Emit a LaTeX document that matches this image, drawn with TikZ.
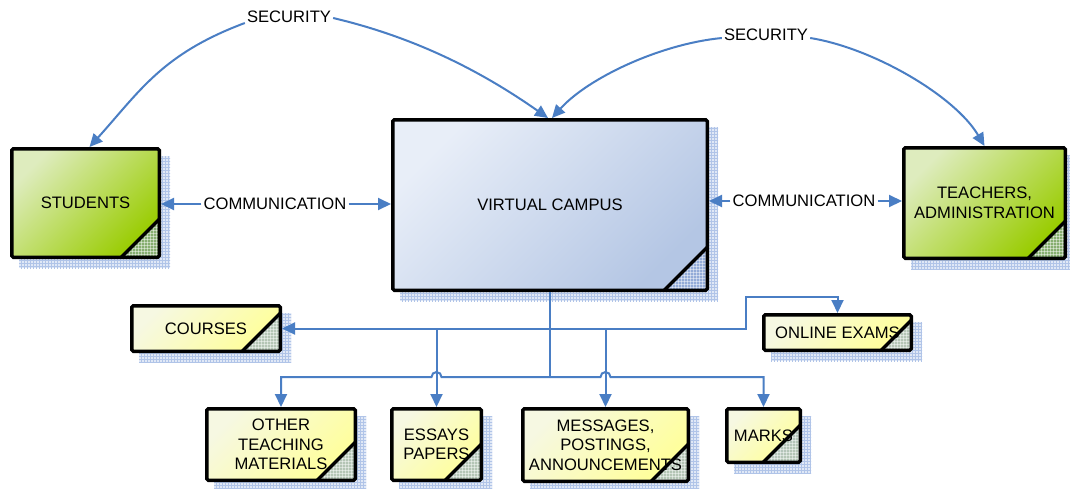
\documentclass[tikz,border=0pt]{standalone}
\usepackage{fontspec}
\setmainfont{Liberation Sans}
\usetikzlibrary{arrows.meta,patterns,backgrounds}
\definecolor{connblue}{RGB}{74,126,196}
\definecolor{shadowfill}{RGB}{224,232,246}
\definecolor{shadowgrid}{RGB}{176,196,232}
\definecolor{cornerblue}{RGB}{120,150,205}
\definecolor{gA}{RGB}{222,236,190}
\definecolor{gB}{RGB}{163,208,22}
\definecolor{gC}{RGB}{153,204,0}
\definecolor{bA}{RGB}{232,238,248}
\definecolor{bB}{RGB}{202,216,236}
\definecolor{bC}{RGB}{180,198,228}
\definecolor{yA}{RGB}{246,248,226}
\definecolor{yB}{RGB}{252,252,172}
\definecolor{yC}{RGB}{255,255,153}
\tikzset{
  fold/.store in=\foldsize, fold=38pt,
  box/.style={draw=black, line width=3.5pt, rounded corners=1.5pt, align=center,
    inner sep=0pt, font=\fontsize{16.6}{19.5}\selectfont,
    path picture={
      \fill[cornerblue, opacity=0.55] ([xshift=-\foldsize]path picture bounding box.south east)
        -- (path picture bounding box.south east)
        -- ([yshift=\foldsize]path picture bounding box.south east) -- cycle;
      \fill[pattern=grid, pattern color=white, opacity=0.45] ([xshift=-\foldsize]path picture bounding box.south east)
        -- (path picture bounding box.south east)
        -- ([yshift=\foldsize]path picture bounding box.south east) -- cycle;
      \draw[black, line width=3.5pt] ([xshift=-\foldsize]path picture bounding box.south east)
        -- ([yshift=\foldsize]path picture bounding box.south east);
    }},
  greenbox/.style={box, top color=gA, middle color=gB, bottom color=gC, shading angle=45},
  bluebox/.style={box, top color=bA, middle color=bB, bottom color=bC, shading angle=45},
  yellowbox/.style={box, top color=yA, middle color=yB, bottom color=yC, shading angle=45},
  lbl/.style={inner sep=2pt, font=\fontsize{16.6}{19.5}\selectfont},
  conn/.style={draw=connblue, line width=2pt},
  arr/.style={conn, -{Triangle[length=13pt,width=12pt]}},
}
\begin{document}
\begin{tikzpicture}[x=1pt,y=-1pt]
\useasboundingbox (0,0) rectangle (1070,488);
% boxes
\node[greenbox, minimum width=147.5pt, minimum height=108.5pt, fold=38pt] (stu) at (85.5,203) {STUDENTS};
\node[bluebox, minimum width=314.5pt, minimum height=170.5pt, fold=43pt] (vc) at (550,205) {VIRTUAL CAMPUS};
\node[greenbox, minimum width=161.5pt, minimum height=110.5pt, fold=37pt] (tea) at (984.5,203) {TEACHERS,\\ADMINISTRATION};
\node[yellowbox, minimum width=148.5pt, minimum height=45.5pt, fold=38pt] (cou) at (206,328.5) {COURSES};
\node[yellowbox, minimum width=147.5pt, minimum height=35.5pt, fold=30pt] (onl) at (837.5,332.5) {ONLINE EXAMS};
\node[yellowbox, minimum width=148.5pt, minimum height=71.5pt, fold=38pt] (oth) at (281,444.5) {OTHER\\TEACHING\\MATERIALS};
\node[yellowbox, minimum width=89.5pt, minimum height=71.5pt, fold=36pt] (ess) at (436.5,444.5) {ESSAYS\\PAPERS};
\node[yellowbox, minimum width=165.5pt, minimum height=72.5pt, fold=37pt] (mes) at (605.5,445) {MESSAGES,\\POSTINGS,\\ANNOUNCEMENTS};
\node[yellowbox, minimum width=73.5pt, minimum height=53.5pt, fold=37pt] (mar) at (763.5,435.5) {MARKS};
% shadows
\begin{scope}[on background layer]
\fill[white] (0,0) rectangle (1070,488);
\foreach \n in {stu,vc,tea,cou,onl,oth,ess,mes,mar}{
  \fill[shadowfill] ([shift={(9pt,-9pt)}]\n.south west) rectangle ([shift={(9pt,-9pt)}]\n.north east);
  \fill[pattern=grid, pattern color=shadowgrid] ([shift={(9pt,-9pt)}]\n.south west) rectangle ([shift={(9pt,-9pt)}]\n.north east);
}
\end{scope}
% labels
\node[lbl] (sec1) at (289,17) {SECURITY};
\node[lbl] (sec2) at (766,35) {SECURITY};
\node[lbl] (com1) at (275,204) {COMMUNICATION};
\node[lbl] (com2) at (804,201) {COMMUNICATION};
% security curves
\draw[arr] ([yshift=-6pt]sec1.west) .. controls (162,54) and (140,91) .. ([xshift=4pt]stu.north);
\draw[arr] ([yshift=-1pt]sec1.east) .. controls (422,39) and (488,76) .. ([xshift=-2pt]vc.north);
\draw[arr] ([yshift=-3pt]sec2.west) .. controls (660,44) and (588,78) .. ([xshift=2pt]vc.north);
\draw[arr] ([yshift=-3pt]sec2.east) .. controls (873,48) and (955,96) .. (tea.north);
% communication
\draw[arr] (com1.west) -- (com1.west -| stu.east);
\draw[arr] (com1.east) -- (com1.east -| vc.west);
\draw[arr] (com2.west) -- (com2.west -| vc.east);
\draw[arr] (com2.east) -- (com2.east -| tea.west);
% tree
\coordinate (j1) at (vc.south |- cou.east);
\coordinate (j2) at (550,377);
\coordinate (h1) at (ess.north |- j2);
\coordinate (h2) at (mes.north |- j2);
\coordinate (r1) at (746,297);
\draw[conn] (vc.south) -- (j2);
\draw[arr] (j1) -- (cou.east);
\draw[arr] (j1) -| (ess.north);
\draw[arr] (j1) -| (mes.north);
\draw[arr] (j1) -| (r1) -| (onl.north);
\draw[arr] (j2) -- ([xshift=5pt]h1) arc[start angle=0, end angle=-180, radius=5] -| (oth.north);
\draw[arr] (j2) -- ([xshift=-5pt]h2) arc[start angle=180, end angle=360, radius=5] -| (mar.north);
\end{tikzpicture}
\end{document}
